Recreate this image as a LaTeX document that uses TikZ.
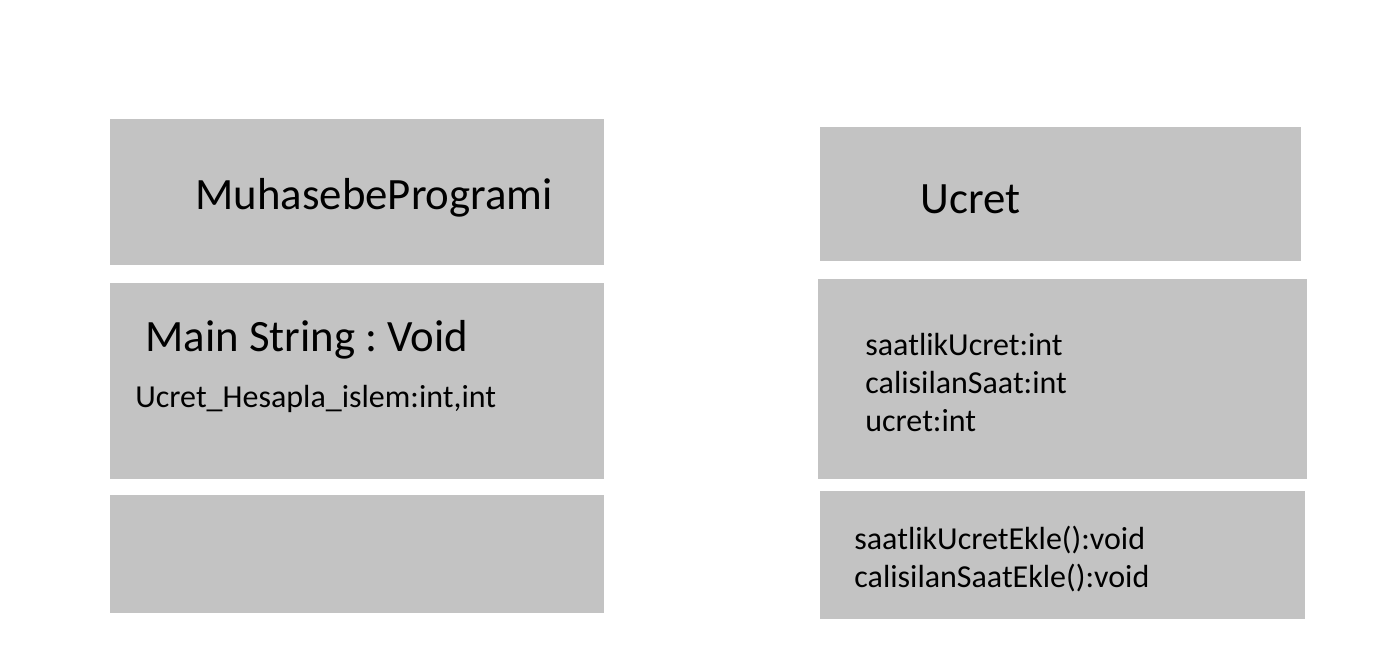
\documentclass[tikz,border=0pt]{standalone}
\usepackage{fontspec}
\setmainfont{Carlito}
\usepackage{tikz}
\usetikzlibrary{positioning}
\definecolor{boxgray}{RGB}{195,195,195}
\frenchspacing

\begin{document}
\begin{tikzpicture}[x=0.5pt, y=-0.5pt,
	box/.style = {fill=boxgray, inner sep=0pt, anchor=north west},
	title/.style = {font=\fontsize{22.4}{26}\selectfont, anchor=base west, inner sep=0pt},
	member/.style = {font=\fontsize{16}{19}\selectfont, anchor=base west, inner sep=0pt}]
			\useasboundingbox (0,0) rectangle (1377,671);
			% MuhasebeProgrami
			\node[box, minimum width=247pt, minimum height=73pt] (m1) at (110,119) {};
			\node[box, minimum width=247pt, minimum height=98pt] (m2) at (110,283) {};
			\node[box, minimum width=247pt, minimum height=59pt] (m3) at (110,495) {};
			\node[title] (mname) at (195,209) {MuhasebeProgrami};
			\node[title] (main) at (145,351) {Main String : Void};
			\node[member] (hesapla) at (135,407) {Ucret\_Hesapla\_islem:int,int};
			% Ucret
			\node[box, minimum width=240.5pt, minimum height=67pt] (u1) at (820,127) {};
			\node[box, minimum width=244.5pt, minimum height=100pt] (u2) at (818,279) {};
			\node[box, minimum width=242.5pt, minimum height=64pt] (u3) at (820,491) {};
			\node[title] (uname) at (920,213) {Ucret};
			\node[member] (a1) at (865,355) {saatlikUcret:int};
			\node[member] (a2) at (865,393) {calisilanSaat:int};
			\node[member] (a3) at (865,431) {ucret:int};
			\node[member] (o1) at (854,549) {saatlikUcretEkle():void};
			\node[member] (o2) at (854,587) {calisilanSaatEkle():void};
		\end{tikzpicture}
\end{document}
